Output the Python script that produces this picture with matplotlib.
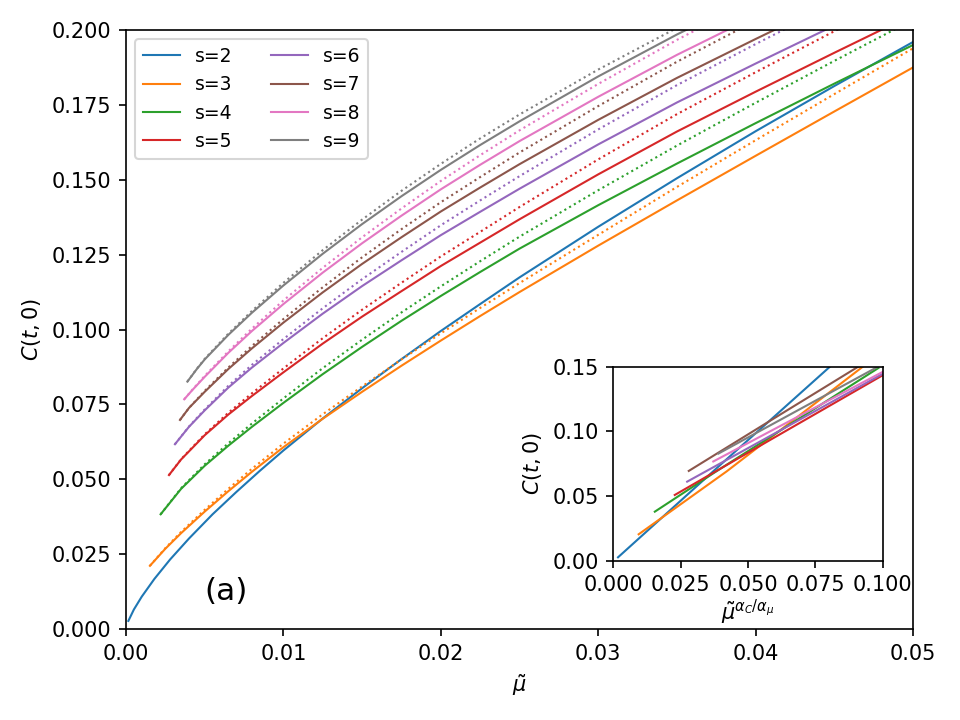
import matplotlib
matplotlib.use("Agg")
import matplotlib.pyplot as plt

# values
labels = ["s=2", "s=3", "s=4", "s=5", "s=6", "s=7", "s=8", "s=9"]
colors = ["C0", "C1", "C2", "C3", "C4", "C5", "C6", "C7"]

# main panel, solid curves: mu tilde -> C(t,0)
mu_s2 = [0.00015, 0.0005, 0.001, 0.0018, 0.0028, 0.004, 0.0055, 0.007, 0.0085, 0.01,
         0.0125, 0.015, 0.0175, 0.02, 0.0225, 0.025, 0.03, 0.035, 0.04, 0.045, 0.05]
c_s2 = [0.0027, 0.0065, 0.0108, 0.0167, 0.0232, 0.0302, 0.0383, 0.0457, 0.0528, 0.0596,
        0.0703, 0.0804, 0.0901, 0.0995, 0.1085, 0.1174, 0.1343, 0.1505, 0.1662, 0.1813, 0.1960]
mu_s3 = [0.00152, 0.0025, 0.0035, 0.005, 0.0065, 0.008, 0.01, 0.0125, 0.015, 0.0175,
         0.02, 0.0225, 0.025, 0.03, 0.035, 0.04, 0.045, 0.05]
c_s3 = [0.0211, 0.0268, 0.0320, 0.0392, 0.0460, 0.0525, 0.0607, 0.0702, 0.0792, 0.0879,
        0.0963, 0.1045, 0.1125, 0.1280, 0.1431, 0.1580, 0.1728, 0.1875]
mu_s4 = [0.0022, 0.0035, 0.005, 0.0065, 0.008, 0.01, 0.0125, 0.015, 0.0175, 0.02,
         0.0225, 0.025, 0.03, 0.035, 0.04, 0.045, 0.05]
c_s4 = [0.0383, 0.0468, 0.0545, 0.0612, 0.0675, 0.0755, 0.0851, 0.0942, 0.1029, 0.1112,
        0.1192, 0.1270, 0.1415, 0.1554, 0.1689, 0.1821, 0.1950]
mu_s5 = [0.00273, 0.0035, 0.005, 0.0065, 0.008, 0.01, 0.0125, 0.015, 0.0175, 0.02,
         0.0225, 0.025, 0.03, 0.035, 0.04, 0.045, 0.05]
c_s5 = [0.0514, 0.0566, 0.0647, 0.0716, 0.0778, 0.0857, 0.0953, 0.1043, 0.1128, 0.1212,
        0.1290, 0.1368, 0.1518, 0.1661, 0.1794, 0.1924, 0.2052]
mu_s6 = [0.00311, 0.004, 0.005, 0.0065, 0.008, 0.01, 0.0125, 0.015, 0.0175, 0.02,
         0.0225, 0.025, 0.03, 0.035, 0.04, 0.045]
c_s6 = [0.0617, 0.0675, 0.0730, 0.0806, 0.0873, 0.0955, 0.1053, 0.1145, 0.1231, 0.1315,
        0.1393, 0.1470, 0.1618, 0.1758, 0.1888, 0.2015]
mu_s7 = [0.00343, 0.004, 0.005, 0.0065, 0.008, 0.01, 0.0125, 0.015, 0.0175, 0.02,
         0.0225, 0.025, 0.03, 0.035, 0.04, 0.045]
c_s7 = [0.0698, 0.0738, 0.0792, 0.0868, 0.0937, 0.1023, 0.1124, 0.1219, 0.1308, 0.1394,
        0.1474, 0.1552, 0.1700, 0.1840, 0.1970, 0.2097]
mu_s8 = [0.0037, 0.0042, 0.005, 0.0065, 0.008, 0.01, 0.0125, 0.015, 0.0175, 0.02,
         0.0225, 0.025, 0.03, 0.035, 0.04]
c_s8 = [0.0767, 0.0797, 0.0842, 0.0922, 0.0995, 0.1085, 0.1190, 0.1288, 0.1380, 0.1468,
        0.1550, 0.1629, 0.1777, 0.1917, 0.2047]
mu_s9 = [0.0039, 0.0045, 0.005, 0.0065, 0.008, 0.01, 0.0125, 0.015, 0.0175, 0.02,
         0.0225, 0.025, 0.03, 0.035, 0.04]
c_s9 = [0.0826, 0.0868, 0.0900, 0.0982, 0.1056, 0.1147, 0.1253, 0.1352, 0.1445, 0.1533,
        0.1616, 0.1695, 0.1845, 0.1985, 0.2115]

# main panel, dotted fits
fmu_s3 = [0.00152, 0.0025, 0.0035, 0.005, 0.0065, 0.008, 0.01, 0.0125, 0.015, 0.0175,
          0.02, 0.0225, 0.025, 0.03, 0.035, 0.04, 0.045, 0.05]
fc_s3 = [0.0211, 0.0270, 0.0324, 0.0398, 0.0468, 0.0535, 0.0619, 0.0717, 0.0810, 0.0900,
         0.0987, 0.1072, 0.1155, 0.1316, 0.1476, 0.1632, 0.1786, 0.1939]
fmu_s4 = [0.0022, 0.0035, 0.005, 0.0065, 0.008, 0.01, 0.0125, 0.015, 0.0175, 0.02,
          0.0225, 0.025, 0.03, 0.035, 0.04, 0.045, 0.05]
fc_s4 = [0.0383, 0.0470, 0.0550, 0.0620, 0.0686, 0.0770, 0.0871, 0.0966, 0.1057, 0.1144,
         0.1228, 0.1310, 0.1465, 0.1614, 0.1757, 0.1897, 0.2034]
fmu_s5 = [0.00273, 0.0035, 0.005, 0.0065, 0.008, 0.01, 0.0125, 0.015, 0.0175, 0.02,
          0.0225, 0.025, 0.03, 0.035, 0.04, 0.045, 0.05]
fc_s5 = [0.0514, 0.0567, 0.0650, 0.0722, 0.0787, 0.0870, 0.0971, 0.1066, 0.1156, 0.1244,
         0.1326, 0.1409, 0.1568, 0.1719, 0.1859, 0.1996, 0.2130]
fmu_s6 = [0.00311, 0.004, 0.005, 0.0065, 0.008, 0.01, 0.0125, 0.015, 0.0175, 0.02,
          0.0225, 0.025, 0.03, 0.035, 0.04, 0.045]
fc_s6 = [0.0617, 0.0676, 0.0733, 0.0812, 0.0882, 0.0968, 0.1071, 0.1168, 0.1259, 0.1348,
         0.1431, 0.1512, 0.1668, 0.1816, 0.1953, 0.2087]
fmu_s7 = [0.00343, 0.004, 0.005, 0.0065, 0.008, 0.01, 0.0125, 0.015, 0.0175, 0.02,
          0.0225, 0.025, 0.03, 0.035, 0.04]
fc_s7 = [0.0698, 0.0738, 0.0795, 0.0873, 0.0945, 0.1035, 0.1141, 0.1241, 0.1335, 0.1425,
         0.1509, 0.1591, 0.1746, 0.1894, 0.2031]
fmu_s8 = [0.0037, 0.0042, 0.005, 0.0065, 0.008, 0.01, 0.0125, 0.015, 0.0175, 0.02,
          0.0225, 0.025, 0.03, 0.035, 0.04]
fc_s8 = [0.0767, 0.0798, 0.0845, 0.0927, 0.1003, 0.1097, 0.1206, 0.1308, 0.1404, 0.1496,
         0.1582, 0.1665, 0.1820, 0.1967, 0.2103]
fmu_s9 = [0.0039, 0.0045, 0.005, 0.0065, 0.008, 0.01, 0.0125, 0.015, 0.0175, 0.02,
          0.0225, 0.025, 0.03, 0.035, 0.04]
fc_s9 = [0.0826, 0.0869, 0.0902, 0.0986, 0.1062, 0.1156, 0.1265, 0.1367, 0.1463, 0.1553,
         0.1638, 0.1718, 0.1868, 0.2007, 0.2136]

# inset: rescaled mu -> C(t,0)
ix_s2 = [0.00174, 0.04, 0.0804]
ic_s2 = [0.0026, 0.0746, 0.1500]
ix_s3 = [0.0094, 0.0421, 0.0926]
ic_s3 = [0.0204, 0.0691, 0.1500]
ix_s4 = [0.0154, 0.0378, 0.0984]
ic_s4 = [0.0379, 0.0685, 0.1490]
ix_s5 = [0.0228, 0.06, 0.1]
ic_s5 = [0.0508, 0.0955, 0.1434]
ix_s6 = [0.0274, 0.06, 0.1]
ic_s6 = [0.0611, 0.0985, 0.1445]
ix_s7 = [0.028, 0.06, 0.0909]
ic_s7 = [0.0694, 0.1105, 0.1500]
ix_s8 = [0.0371, 0.06, 0.1]
ic_s8 = [0.0767, 0.1020, 0.1460]
ix_s9 = [0.039, 0.07, 0.0985]
ic_s9 = [0.0828, 0.1180, 0.1503]

solid = [(mu_s2, c_s2), (mu_s3, c_s3), (mu_s4, c_s4), (mu_s5, c_s5),
         (mu_s6, c_s6), (mu_s7, c_s7), (mu_s8, c_s8), (mu_s9, c_s9)]
fits = [None, (fmu_s3, fc_s3), (fmu_s4, fc_s4), (fmu_s5, fc_s5),
        (fmu_s6, fc_s6), (fmu_s7, fc_s7), (fmu_s8, fc_s8), (fmu_s9, fc_s9)]
inset = [(ix_s2, ic_s2), (ix_s3, ic_s3), (ix_s4, ic_s4), (ix_s5, ic_s5),
         (ix_s6, ic_s6), (ix_s7, ic_s7), (ix_s8, ic_s8), (ix_s9, ic_s9)]

fig = plt.figure(figsize=(6.4, 4.8), dpi=150)
ax = fig.add_axes([0.13125, 0.1264, 0.8198, 0.8319])

for i in range(len(labels)):
    ax.plot(solid[i][0], solid[i][1], color=colors[i], lw=1, label=labels[i])
    if fits[i] is not None:
        ax.plot(fits[i][0], fits[i][1], color=colors[i], lw=1, ls=':')

ax.set_xlim(0, 0.05)
ax.set_ylim(0, 0.2)
ax.set_xlabel(r'$\tilde{\mu}$')
ax.set_ylabel(r'$C(t,0)$')
ax.legend(loc='upper left', ncol=2, fontsize=9)
ax.text(0.005, 0.0098, '(a)', fontsize=15)

axi = fig.add_axes([0.6389, 0.2213, 0.2806, 0.2694])
for i in range(len(labels)):
    axi.plot(inset[i][0], inset[i][1], color=colors[i], lw=1)
axi.set_xlim(0, 0.1)
axi.set_ylim(0, 0.15)
axi.set_xticks([0, 0.025, 0.05, 0.075, 0.1])
axi.set_yticks([0, 0.05, 0.1, 0.15])
axi.set_xlabel(r'$\tilde{\mu}^{\alpha_C/\alpha_\mu}$', labelpad=1)
axi.set_ylabel(r'$C(t,0)$')

fig.savefig('out.png', dpi=150)
